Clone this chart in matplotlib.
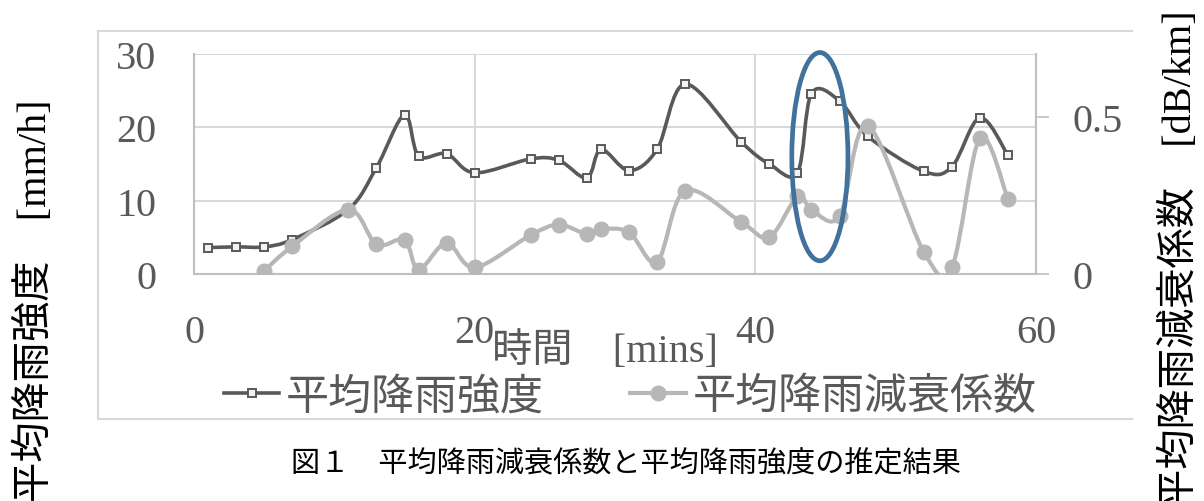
import numpy as np
import matplotlib
matplotlib.use("Agg")
import matplotlib.pyplot as plt
from matplotlib.path import Path
from matplotlib.patches import PathPatch, Ellipse
from matplotlib.lines import Line2D

# 平均降雨強度 [mm/h]
t_rain = [1, 3, 5, 7, 11, 13, 15, 16, 18, 20, 24, 26, 28, 29, 31, 33, 35,
          39, 41, 43, 44, 46, 48, 52, 54, 56, 58]
rain = [3.6, 3.7, 3.7, 4.7, 8.8, 14.5, 21.7, 16.1, 16.4, 13.8, 15.7, 15.5,
        13.1, 17.0, 14.1, 17.0, 25.9, 18.0, 15.0, 13.8, 24.6, 23.6, 18.8,
        14.0, 14.6, 21.3, 16.2]

# 平均降雨減衰係数 [dB/km]
t_att = [5, 7, 11, 13, 15, 16, 18, 20, 24, 26, 28, 29, 31, 33, 35, 39, 41,
         43, 44, 46, 48, 52, 54, 56, 58]
att = [0.01, 0.088, 0.205, 0.094, 0.109, 0.014, 0.099, 0.021, 0.124, 0.157,
       0.127, 0.143, 0.133, 0.039, 0.265, 0.165, 0.117, 0.247, 0.205, 0.184,
       0.472, 0.071, 0.021, 0.432, 0.239]

x_ticks = [0, 20, 40, 60]
y1_ticks = [0, 10, 20, 30]
y2_ticks = [0, 0.5]

W, H = 1204, 502
TEXT = "#595959"
DARK = "#595959"
LIGHT = "#b7b7b7"
GRID = "#d9d9d9"
SERIF_JP = ["Liberation Serif", "Noto Sans CJK JP"]


def smooth_path(xs, ys):
    """Smoothed polyline through the points (cubic Bezier, Catmull-Rom style)."""
    pts = np.column_stack([xs, ys]).astype(float)
    n = len(pts)
    verts = [pts[0]]
    codes = [Path.MOVETO]
    for i in range(n - 1):
        p0 = pts[i - 1] if i > 0 else pts[i]
        p1 = pts[i]
        p2 = pts[i + 1]
        p3 = pts[i + 2] if i + 2 < n else pts[i + 1]
        verts += [p1 + (p2 - p0) / 6.0, p2 - (p3 - p1) / 6.0, p2]
        codes += [Path.CURVE4] * 3
    return Path(verts, codes)


fig = plt.figure(figsize=(W / 100, H / 100), dpi=100)

def fx(px):
    return px / W

def fy(py):
    return 1 - py / H

# outer chart frame
for (x0, y0, x1, y1) in [(98, 32, 1132, 32), (98, 32, 98, 420), (98, 420, 1132, 420)]:
    fig.add_artist(Line2D([fx(x0), fx(x1)], [fy(y0), fy(y1)], color=GRID, lw=1.5))

ax1 = fig.add_axes([fx(194), fy(275), fx(1036) - fx(194), fy(55) - fy(275)])
ax2 = ax1.twinx()

ax1.set_xlim(0, 60)
ax1.set_ylim(0, 30)
ax2.set_ylim(0, 0.7)
ax1.set_xticks(x_ticks)
ax1.set_yticks(y1_ticks)
ax2.set_yticks(y2_ticks)
ax2.set_yticklabels(["0", "0.5"])

ax1.grid(True, color=GRID, lw=1.5)
ax1.set_axisbelow(True)
for s in ["top", "right"]:
    ax1.spines[s].set_visible(False)
for s in ["left", "bottom"]:
    ax1.spines[s].set_color("#bfbfbf")
    ax1.spines[s].set_linewidth(1.5)
for s in ["top", "left", "bottom"]:
    ax2.spines[s].set_visible(False)
ax2.spines["right"].set_color("#bfbfbf")
ax2.spines["right"].set_linewidth(1.5)

ax1.tick_params(axis="y", length=0, pad=27, labelsize=29, labelcolor=TEXT)
ax1.tick_params(axis="x", length=0, pad=29, labelsize=29, labelcolor=TEXT)
ax2.tick_params(axis="y", length=9, width=1.2, color="#bfbfbf", pad=17,
                labelsize=29, labelcolor=TEXT)
for lab in ax1.get_xticklabels() + ax1.get_yticklabels() + ax2.get_yticklabels():
    lab.set_family("Liberation Serif")

# series lines (smoothed) and markers
ax1.add_patch(PathPatch(smooth_path(t_rain, rain), fill=False, ec=DARK, lw=2.6,
                        zorder=3))
ax1.plot(t_rain, rain, ls="none", marker="s", ms=6, mfc="#f2f2f2", mec=DARK,
         mew=1.4, zorder=4)
ax2.add_patch(PathPatch(smooth_path(t_att, att), fill=False, ec=LIGHT, lw=3.0,
                        zorder=3))
ax2.plot(t_att, att, ls="none", marker="o", ms=10.5, mfc=LIGHT, mec=LIGHT,
         zorder=4)

# highlight ring
ring = Ellipse((44.6, 16.0), 4.0, 28.4, transform=ax1.transData, fill=False,
               ec="#41719c", lw=3.4, zorder=10, clip_on=False)
ax2.add_patch(ring)

# axis titles
fig.text(fx(605), fy(352), "時間　[mins]", ha="center", va="center",
         fontsize=29, color=TEXT, family=SERIF_JP)
fig.text(fx(35), fy(100), "平均降雨強度　[mm/h]", ha="center", va="top",
         rotation=90, fontsize=29, color="black", family=SERIF_JP)
fig.text(fx(1180), fy(10), "平均降雨減衰係数　[dB/km]", ha="center", va="top",
         rotation=90, fontsize=29, color="black", family=SERIF_JP)

# legend
h1 = Line2D([], [], color=DARK, lw=2.6, marker="s", ms=6, mfc="#f2f2f2",
            mec=DARK, mew=1.4)
h2 = Line2D([], [], color=LIGHT, lw=3.0, marker="o", ms=10.5, mfc=LIGHT,
            mec=LIGHT)
leg = fig.legend([h1, h2], ["平均降雨強度", "平均降雨減衰係数"], ncol=2,
                 loc="center", bbox_to_anchor=(fx(630), fy(398)), frameon=False,
                 prop={"family": SERIF_JP, "size": 31}, handlelength=1.3,
                 handletextpad=0.15, columnspacing=2.0, borderpad=0)
for txt in leg.get_texts():
    txt.set_color(TEXT)

# caption
fig.text(fx(626), fy(465), "図１　平均降雨減衰係数と平均降雨強度の推定結果",
         ha="center", va="center", fontsize=21, color="black", family=SERIF_JP)

fig.savefig("out.png", dpi=100)
